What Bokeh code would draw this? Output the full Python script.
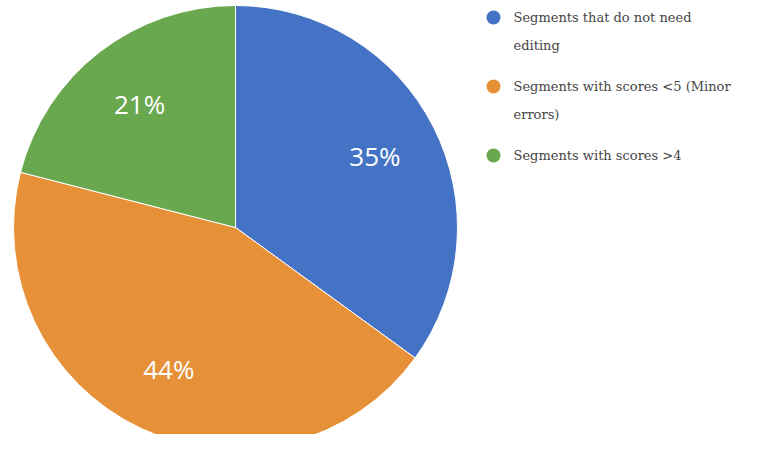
import math
from bokeh.plotting import figure
from bokeh.models import Range1d, ColumnDataSource
from bokeh.core.properties import value
from bokeh.embed import file_html
from bokeh.resources import INLINE

labels = ["Segments that do not need\nediting",
          "Segments with scores <5 (Minor\nerrors)",
          "Segments with scores >4"]
values = [35, 44, 21]
colors = ["#4472C4", "#E69138", "#6AA84F"]

W, H = 744, 434
p = figure(width=W, height=H, output_backend="svg", toolbar_location=None,
           x_range=Range1d(0, W), y_range=Range1d(-H, 0),
           min_border=0, outline_line_color=None)
p.axis.visible = False
p.grid.visible = False
p.background_fill_color = "white"
p.border_fill_color = "white"

cx, cy, R = 235, -227, 222
total = sum(values)
cum = 0
starts, ends, lx, ly, txt = [], [], [], [], []
for v in values:
    a0 = math.pi / 2 - 2 * math.pi * (cum + v) / total
    a1 = math.pi / 2 - 2 * math.pi * cum / total
    starts.append(a0)
    ends.append(a1)
    mid = (a0 + a1) / 2
    lx.append(cx + 0.705 * R * math.cos(mid))
    ly.append(cy + 0.705 * R * math.sin(mid))
    txt.append(f"{round(100 * v / total)}%")
    cum += v

src = ColumnDataSource(dict(start=starts, end=ends, color=colors))
p.wedge(x=cx, y=cy, radius=R, start_angle="start", end_angle="end",
        fill_color="color", line_color="white", line_width=1, source=src)

p.text(x=lx, y=ly, text=txt, text_color="white", text_font=value("Open Sans"),
       text_font_size="26px", text_align="center", text_baseline="middle")

# legend
lg_x, lg_y0 = 493, -17
row_gap = 69
line_h = 28
mx, my, tx, ty, tt = [], [], [], [], []
y = lg_y0
for lab in labels:
    mx.append(lg_x)
    my.append(y)
    parts = lab.split("\n")
    for i, part in enumerate(parts):
        tx.append(lg_x + 20)
        ty.append(y - i * line_h)
        tt.append(part)
    y -= row_gap
p.scatter(x=mx, y=my, size=14, fill_color=colors, line_color=None)
p.text(x=tx, y=ty, text=tt, text_color="#444444", text_font=value("DejaVu Serif"),
       text_font_size="13px", text_align="left", text_baseline="middle")

open("out.html", "w").write(file_html(p, INLINE))
